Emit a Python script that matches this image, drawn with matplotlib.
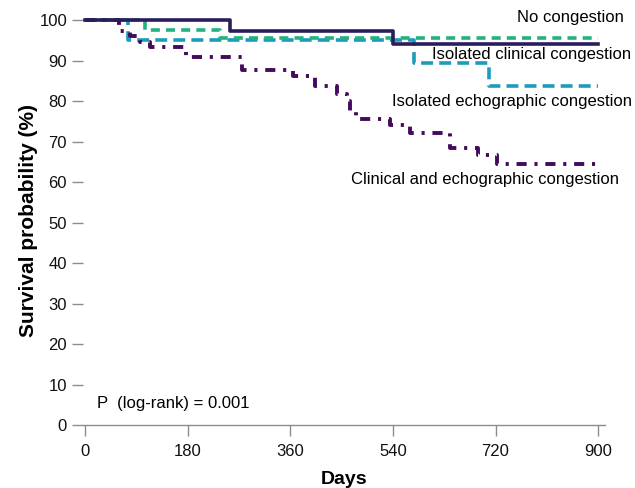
import matplotlib
matplotlib.use("Agg")
import matplotlib.pyplot as plt

plt.rcParams['font.family'] = ['Liberation Sans', 'DejaVu Sans']

# survival curves (days, %)
no_days = [0, 254, 541, 900]
no_surv = [100, 97.2, 94.2, 94.2]

clin_days = [0, 105, 237, 900]
clin_surv = [100, 97.6, 95.6, 95.6]

echo_days = [0, 75, 577, 709, 900]
echo_surv = [100, 95.2, 89.4, 83.7, 83.7]

both_days = [0, 60, 79, 96, 114, 177, 275, 365, 404, 442, 460, 465, 475,
             535, 570, 640, 689, 723, 900]
both_surv = [100, 97.3, 96.1, 94.5, 93.4, 90.8, 87.8, 86.2, 83.8, 81.8, 79.9,
             77.4, 75.5, 74.1, 72.1, 68.4, 66.8, 64.4, 64.4]

xticks = [0, 180, 360, 540, 720, 900]
yticks = list(range(0, 101, 10))

c_no = '#2b1d5c'
c_clin = '#22b37c'
c_echo = '#1c9cbc'
c_both = '#430a5e'

fig = plt.figure(figsize=(6.35, 4.88), dpi=100)
ax = fig.add_axes([0.1307, 0.1291, 0.8221, 0.838])

ax.step(echo_days, echo_surv, where='post', color=c_echo, lw=2.6,
        linestyle=(0, (3.3, 1.7)))
ax.step(clin_days, clin_surv, where='post', color=c_clin, lw=2.6,
        linestyle=(0, (2.5, 1.7)))
ax.step(both_days, both_surv, where='post', color=c_both, lw=2.8,
        linestyle=(0, (2.6, 2, 0.8, 2)))
ax.step(no_days, no_surv, where='post', color=c_no, lw=2.6)

ax.set_xlim(-3.5, 912)
ax.set_ylim(0, 101)
ax.set_xticks(xticks)
ax.set_yticks(yticks)

for s in ['top', 'right', 'left']:
    ax.spines[s].set_visible(False)
ax.spines['bottom'].set_color('#8c8c8c')
ax.spines['bottom'].set_linewidth(1)
ax.tick_params(axis='both', colors='#8c8c8c', labelcolor='#111111',
               labelsize=12, length=8, width=1)
ax.tick_params(axis='x', pad=6)

ax.set_xlabel('Days', fontsize=14, fontweight='bold', labelpad=8)
ax.set_ylabel('Survival probability (%)', fontsize=15, fontweight='bold', labelpad=1)

ax.text(758, 100.7, 'No congestion', fontsize=12, va='center', clip_on=False)
ax.text(609, 91.6, 'Isolated clinical congestion', fontsize=12, va='center', clip_on=False)
ax.text(539, 79.9, 'Isolated echographic congestion', fontsize=12, va='center', clip_on=False)
ax.text(467, 60.7, 'Clinical and echographic congestion', fontsize=12, va='center', clip_on=False)
ax.text(21, 5.2, 'P  (log-rank) = 0.001', fontsize=12, va='center')

plt.savefig('out.png', dpi=100)
